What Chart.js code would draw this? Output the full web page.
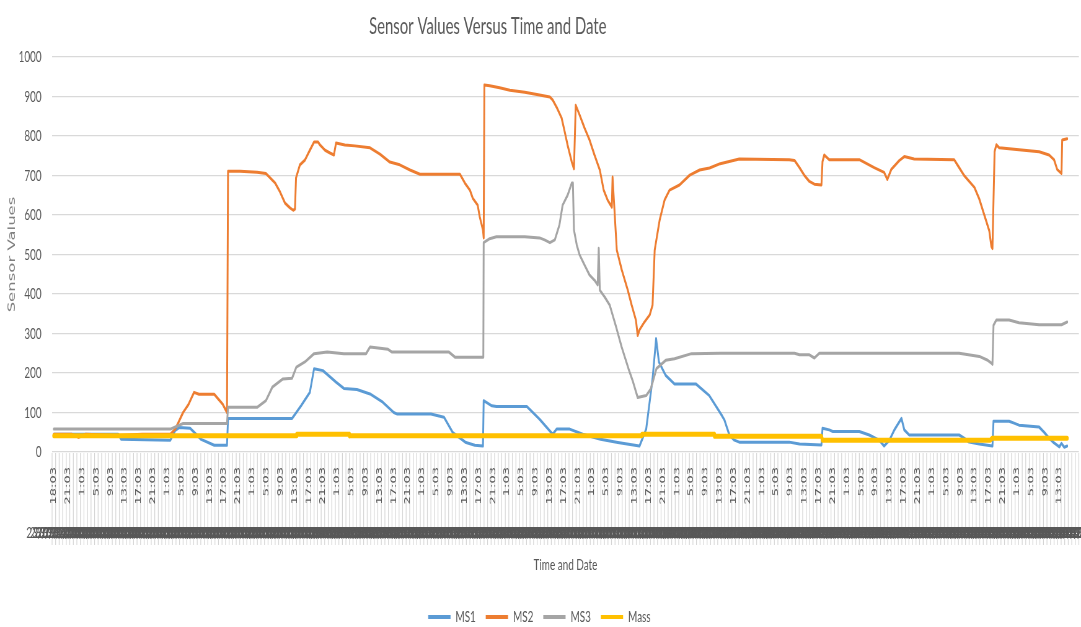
<!DOCTYPE html>
<html>
<head>
<meta charset="utf-8">
<title>Sensor Values Versus Time and Date</title>
<script src="https://cdn.jsdelivr.net/npm/chart.js@4.4.1/dist/chart.umd.min.js"></script>
<style>
  html, body { margin: 0; padding: 0; background: #ffffff; }
  #chart { display: block; }
</style>
</head>
<body>
<!-- the sheet chart is squeezed sideways, so draw it wide and let the inline size narrow it -->
<canvas id="chart" width="1744" height="627" style="width:1081px;height:627px"></canvas>
<script>
// Sample slots on the time axis, a time label every 4th slot
const slotCount = 290;

const timeLabels = [
    '18:03', '21:03',
    '1:03', '5:03', '9:03', '13:03', '17:03', '21:03',
    '1:03', '5:03', '9:03', '13:03', '17:03', '21:03',
    '1:03', '5:03', '9:03', '13:03', '17:03', '21:03',
    '1:03', '5:03', '9:03', '13:03', '17:03', '21:03',
    '1:03', '5:03', '9:03', '13:03', '17:03', '21:03',
    '1:03', '5:03', '9:03', '13:03', '17:03', '21:03',
    '1:03', '5:03', '9:03', '13:03', '17:03', '21:03',
    '1:03', '5:03', '9:03', '13:03', '17:03', '21:03',
    '1:03', '5:03', '9:03', '13:03', '17:03', '21:03',
    '1:03', '5:03', '9:03', '13:03', '17:03', '21:03',
    '1:03', '5:03', '9:03', '13:03', '17:03', '21:03',
    '1:03', '5:03', '9:03', '13:03'
];

const dates = [
    '23/03/2023', '24/03/2023', '25/03/2023', '26/03/2023', '27/03/2023',
    '28/03/2023', '29/03/2023', '30/03/2023', '31/03/2023', '01/04/2023',
    '02/04/2023', '03/04/2023', '04/04/2023'
];

const yTicks = [0, 100, 200, 300, 400, 500, 600, 700, 800, 900, 1000];

// [slot, value] pairs
const ms1 = [[0,45],[18.2,45],[19,32],[32.9,30],[34.3,55],[35.4,62],[38.5,60],[41.6,32],[45.3,17],[48.9,17],
    [49.2,85],[67.3,85],[69.8,117],[72.3,151],[73.5,211],[76,206],[79.7,177],[81.9,161],[85.6,158],[89.3,147],
    [92.9,126],[96,100],[97,96],[106.5,96],[110.2,88],[112.7,49],[116.4,24],[118.9,17],[121.2,15],[121.4,130],
    [123.7,117],[125,115],[133.6,115],[137.2,83],[140.9,45],[142,58],[145.7,58],[149.4,45],[154.4,32],[159.3,24],
    [165.4,15],[167.3,58],[169.1,185],[170.1,287],[170.9,228],[172.8,194],[175.3,172],[181.4,172],[185.1,143],[188.7,92],
    [189.4,81],[190.8,43],[192.2,30],[193.6,25],[207.7,25],[210.6,20],[216.8,18],[217.1,60],[219,56],[220,52],
    [227.5,52],[230.3,43],[233.1,30],[234.5,15],[236,30],[237.4,56],[239.4,85],[240.2,56],[241.6,43],[255.7,43],
    [257.1,35],[258.5,25],[261.4,20],[265.1,15],[265.4,78],[269.8,78],[271.2,73],[272.6,68],[278.3,63],[279.7,50],
    [281.1,35],[282.5,23],[284,13],[284.6,22],[285.4,12],[286.2,15]];

const ms2 = [[0,45],[5,45],[7,37],[9,45],[18,42],[25,45],[32.9,45],[34.3,58],[36.5,100],[38,120],
    [39.6,151],[41,146],[45.3,146],[47.7,121],[48.9,100],[49.2,711],[52.6,711],[57.4,708],[59.9,705],[62.5,681],
    [63.9,658],[65.3,630],[66.7,618],[67.6,612],[68.1,615],[68.4,694],[69.5,727],[70.9,739],[72.3,764],[73.5,785],
    [74.6,785],[75.2,777],[76.6,764],[78,757],[79.1,752],[79.7,782],[82.2,777],[85,775],[89.3,770],[92.1,754],
    [94.9,734],[97.7,727],[100.6,714],[103.4,703],[114.7,703],[116.1,681],[117.5,663],[118.3,643],[119.7,625],[120.3,595],
    [121.2,562],[121.4,542],[121.6,929],[123.1,927],[125.9,922],[128.8,916],[133,911],[137.2,904],[140.1,899],[140.9,891],
    [142,873],[143.4,846],[144.3,810],[145.1,777],[146.3,734],[146.9,717],[147.4,878],[148.5,853],[149.9,820],[151.3,790],
    [152.7,752],[154.2,714],[155.3,663],[156.4,638],[157.6,620],[157.8,696],[159,511],[160.4,461],[162.1,410],[163.2,372],
    [164.4,334],[164.9,295],[165.4,309],[166.8,329],[168.3,347],[169.1,372],[169.7,511],[171.1,587],[172.5,638],[173.9,663],
    [176.7,676],[179.6,701],[182.4,714],[185.2,719],[188.2,730],[193.6,742],[207.7,740],[209.2,738],[210.6,720],[212,700],
    [213.4,685],[214.8,678],[216.8,676],[217.1,735],[217.6,752],[219,740],[227.5,740],[231.7,720],[234.5,708],[235.4,690],
    [236.5,715],[238.8,738],[240.2,748],[243,742],[254.3,740],[255.7,720],[257.1,700],[260,670],[261.4,640],[262.8,600],
    [264.2,560],[264.8,520],[265.1,515],[265.7,760],[266.2,778],[267,770],[269.8,768],[272.6,765],[278.3,760],[281.1,752],
    [282.5,740],[283.4,715],[284.6,705],[284.8,790],[286.2,793]];

const ms3 = [[0,58],[32.9,58],[36.5,72],[48.9,72],[49.2,113],[57.4,113],[59.9,130],[61.7,164],[64.7,185],[67.3,187],
    [68.5,215],[70.9,228],[73.5,249],[77.2,253],[81.9,249],[88.2,249],[89.3,266],[94.4,260],[95.5,253],[111.6,253],
    [113.3,240],[121.3,240],[121.4,530],[123.1,540],[125,545],[133,545],[137.2,542],[138.6,537],[140.1,530],[141.5,537],
    [142.8,575],[143.7,625],[145.1,650],[146.3,681],[146.6,681],[146.9,562],[147.7,524],[148.5,499],[149.9,473],[151.3,448],
    [152.7,435],[153.6,423],[153.9,516],[154.2,410],[155.6,392],[157,372],[158.7,320],[160.4,265],[162.3,211],[163.6,177],
    [164.9,138],[167.3,143],[168.6,160],[170.2,211],[172.8,232],[175.3,236],[180.1,249],[188.2,250],[209.2,250],[210.6,246],
    [213.4,246],[214.8,238],[216.2,250],[255.7,250],[261.4,242],[263.6,233],[264.8,225],[265.1,222],[265.4,321],[266.2,334],
    [269.8,334],[272.6,327],[278.3,322],[284.6,322],[286.2,329]];

const mass = [[0,41],[68.5,41],[68.6,45],[83.4,45],[83.5,41],[166,41],[166.1,45],[186.5,45],[186.6,40],[216.8,40],
    [217.1,30],[264.5,30],[265,35],[286.2,35]];

const chartTitle = 'Sensor Values Versus Time and Date';

// one date per slot, for the crowded second row of the axis
const slotDates = [];
for (let i = 0; i < slotCount; i++) {
    slotDates.push(dates[i < 7 ? 0 : Math.floor((i - 7) / 24) + 1]);
}

function series(label, points, color, width, order) {
    return {
        label: label,
        data: points.map(p => ({ x: p[0], y: p[1] })),
        borderColor: color,
        backgroundColor: color,
        borderWidth: width,
        pointRadius: 0,
        tension: 0,
        borderJoinStyle: 'round',
        borderCapStyle: 'round',
        order: order
    };
}

// thin separators between the slots, under the axis labels
const slotLines = {
    id: 'slotLines',
    beforeDraw(chart) {
        const { ctx, chartArea, scales } = chart;
        const bottom = scales.xDate.top + 35;
        ctx.save();
        ctx.strokeStyle = '#d4d4d4';
        ctx.lineWidth = 1.2;
        ctx.beginPath();
        for (let i = 0; i <= slotCount; i++) {
            const px = scales.x.getPixelForValue(i - 0.5);
            ctx.moveTo(px, chartArea.bottom + 1);
            ctx.lineTo(px, bottom);
        }
        ctx.stroke();
        ctx.restore();
    }
};

// the sheet title sits left of centre
const sheetTitle = {
    id: 'sheetTitle',
    afterDraw(chart) {
        const ctx = chart.ctx;
        ctx.save();
        ctx.font = '24px Lato';
        ctx.fillStyle = '#595959';
        ctx.textAlign = 'center';
        ctx.textBaseline = 'alphabetic';
        ctx.fillText(chartTitle, 787, 34);
        ctx.restore();
    }
};

const ctx = document.getElementById('chart').getContext('2d');
new Chart(ctx, {
    type: 'line',
    data: {
        datasets: [
            series('MS1', ms1, '#5b9bd5', 3, 4),
            series('MS2', ms2, '#ed7d31', 3, 3),
            series('MS3', ms3, '#a5a5a5', 3, 2),
            series('Mass', mass, '#ffc000', 5, 1)
        ]
    },
    plugins: [slotLines, sheetTitle],
    options: {
        responsive: false,
        animation: false,
        devicePixelRatio: 1,
        layout: { padding: { top: 57, right: 3.5, bottom: -8, left: 0 } },
        plugins: {
            title: { display: false },
            tooltip: { enabled: false },
            legend: {
                position: 'bottom',
                labels: {
                    boxWidth: 36,
                    boxHeight: 4,
                    padding: 16,
                    color: '#595959',
                    font: { family: 'Lato', size: 16 },
                    sort: (a, b) => a.datasetIndex - b.datasetIndex,
                    generateLabels: chart => Chart.defaults.plugins.legend.labels.generateLabels(chart)
                        .map(item => Object.assign(item, { lineWidth: 0 }))
                }
            }
        },
        scales: {
            x: {
                type: 'linear',
                position: 'bottom',
                min: -0.5,
                max: slotCount - 0.5,
                bounds: 'data',
                weight: 0,
                grid: { display: false, drawTicks: false },
                border: { display: false },
                afterBuildTicks: scale => {
                    scale.ticks = timeLabels.map((t, i) => ({ value: i * 4 }));
                },
                afterFit: scale => {
                    scale.height = 58;
                    scale.paddingLeft = 0;
                    scale.paddingRight = 0;
                },
                ticks: {
                    autoSkip: false,
                    minRotation: 90,
                    maxRotation: 90,
                    padding: 15,
                    color: '#595959',
                    font: { family: 'DejaVu Sans', size: 13 },
                    callback: v => timeLabels[Math.round(v / 4)] || ''
                }
            },
            xDate: {
                type: 'category',
                labels: slotDates,
                position: 'bottom',
                offset: true,
                weight: 1,
                grid: { display: false, drawTicks: false },
                border: { display: false },
                afterFit: scale => {
                    scale.height = 83;
                    scale.paddingLeft = 0;
                    scale.paddingRight = 0;
                },
                ticks: {
                    autoSkip: false,
                    minRotation: 0,
                    maxRotation: 0,
                    padding: 13,
                    color: '#595959',
                    font: { family: 'Lato', size: 16 }
                },
                title: {
                    display: true,
                    text: 'Time and Date',
                    color: '#595959',
                    font: { family: 'Lato', size: 16 },
                    padding: { top: 4, bottom: 19 }
                }
            },
            y: {
                min: 0,
                max: 1000,
                afterBuildTicks: scale => {
                    scale.ticks = yTicks.map(v => ({ value: v }));
                },
                afterFit: scale => {
                    scale.width = 84;
                },
                grid: { color: '#d9d9d9', lineWidth: 1.3, drawTicks: false },
                border: { display: false },
                ticks: {
                    padding: 17,
                    color: '#595959',
                    font: { family: 'Lato', size: 16 },
                    callback: v => String(v)
                },
                title: {
                    display: true,
                    text: 'Sensor Values',
                    color: '#7f7f7f',
                    font: { family: 'DejaVu Sans', size: 16.5 },
                    padding: { top: 9.5, bottom: 0 }
                }
            }
        }
    }
});
</script>
</body>
</html>
